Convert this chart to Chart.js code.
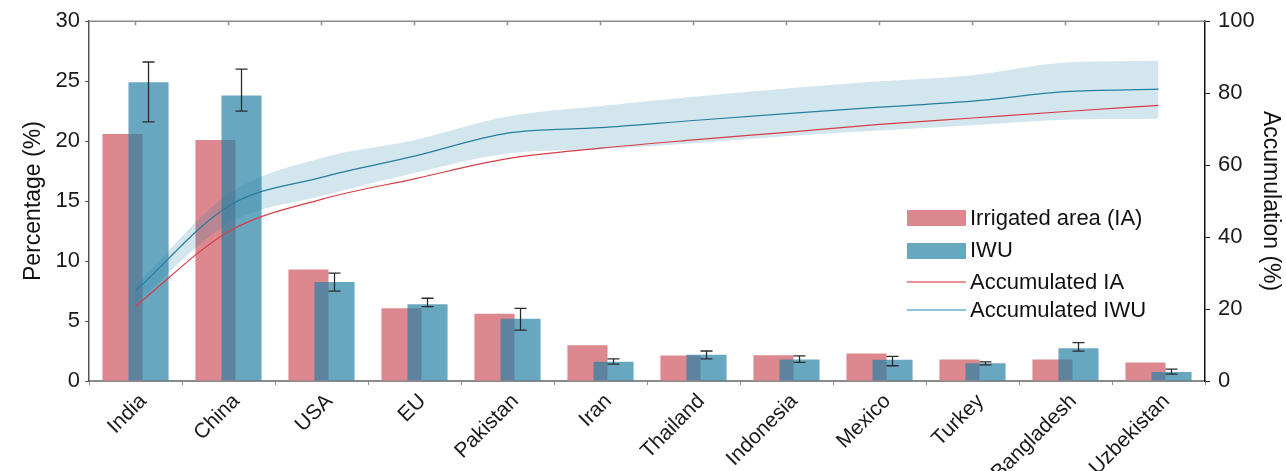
<!DOCTYPE html>
<html>
<head>
<meta charset="utf-8">
<script src="https://cdn.jsdelivr.net/npm/chart.js@4.4.1/dist/chart.umd.min.js"></script>
<style>
  html, body { margin: 0; padding: 0; background: #fff; }
  #wrap { width: 1286px; height: 471px; }
</style>
</head>
<body>
<div id="wrap"><canvas id="chart" width="1286" height="471"></canvas></div>
<script>
const countries = ['India', 'China', 'USA', 'EU', 'Pakistan', 'Iran', 'Thailand', 'Indonesia', 'Mexico', 'Turkey', 'Bangladesh', 'Uzbekistan']

// share of global total (%), left axis
const iaShare = [20.6, 20.1, 9.3, 6.07, 5.6, 2.98, 2.13, 2.15, 2.3, 1.8, 1.8, 1.55]
const iwuShare = [24.9, 23.8, 8.25, 6.4, 5.2, 1.6, 2.18, 1.8, 1.77, 1.49, 2.73, 0.75]
const iwuLow = [21.6, 22.5, 7.5, 6.2, 4.25, 1.4, 1.85, 1.55, 1.27, 1.35, 2.49, 0.58]
const iwuHigh = [26.6, 26.0, 9.0, 6.9, 6.05, 1.85, 2.5, 2.1, 2.05, 1.6, 3.2, 0.99]

// accumulation (%), right axis
const iaAccum = [20.8, 41.5, 50.5, 56.2, 61.8, 64.7, 67.0, 69.1, 71.3, 73.1, 74.9, 76.6]
const iwuAccum = [25.0, 48.6, 56.6, 62.5, 68.9, 70.4, 72.4, 74.3, 76.1, 77.8, 80.4, 81.1]
const iwuAccumHigh = [26.6, 52.0, 62.0, 67.0, 73.5, 76.4, 79.0, 81.3, 83.3, 85.0, 88.5, 89.0]
const iwuAccumLow = [21.6, 43.8, 51.4, 57.8, 63.2, 64.4, 66.1, 68.0, 69.6, 71.1, 72.6, 72.9]

const leftTicks = [0, 5, 10, 15, 20, 25, 30]
const rightTicks = [0, 20, 40, 60, 80, 100]

const iaColor = 'rgb(221, 136, 142)'
const iwuColor = 'rgba(40, 130, 165, 0.7)'
const iaLine = 'rgb(212, 62, 70)'
const iwuLine = 'rgb(38, 125, 160)'
const bandColor = 'rgba(40, 130, 165, 0.2)'
const fontFamily = '"Liberation Sans", Arial, sans-serif'

Chart.defaults.font.family = fontFamily
Chart.defaults.color = '#1a1a1a'

// IA bar sits left of IWU but has to be painted underneath it
const barOrder = {
  id: 'barOrder',
  beforeDatasetsDraw(chart) {
    chart.getDatasetMeta(0).controller.draw()
  },
  beforeDatasetDraw(chart, args) {
    if (args.index === 0) return false
  }
}

const errorBars = {
  id: 'errorBars',
  afterDatasetsDraw(chart) {
    const ctx = chart.ctx
    const y = chart.scales.y
    const meta = chart.getDatasetMeta(1)
    ctx.save()
    ctx.strokeStyle = '#2b2b2b'
    ctx.lineWidth = 1.3
    meta.data.forEach((bar, i) => {
      const top = y.getPixelForValue(iwuHigh[i])
      const bot = y.getPixelForValue(iwuLow[i])
      ctx.beginPath()
      ctx.moveTo(bar.x, top); ctx.lineTo(bar.x, bot)
      ctx.moveTo(bar.x - 6, top); ctx.lineTo(bar.x + 6, top)
      ctx.moveTo(bar.x - 6, bot); ctx.lineTo(bar.x + 6, bot)
      ctx.stroke()
    })
    ctx.restore()
  }
}

const frame = {
  id: 'frame',
  afterDraw(chart) {
    const ctx = chart.ctx
    const a = chart.chartArea
    const x = chart.scales.x
    ctx.save()
    ctx.strokeStyle = '#8a8a8a'
    ctx.lineWidth = 1.5
    ctx.beginPath()
    ctx.moveTo(a.left, a.top); ctx.lineTo(a.right, a.top)
    countries.forEach((c, i) => {
      const px = x.getPixelForTick(i)
      ctx.moveTo(px, a.top); ctx.lineTo(px, a.top + 4)
    })
    ctx.stroke()

    // legend inside the plot
    const lx = 907, tx = 970
    ctx.font = '22px ' + fontFamily
    ctx.textBaseline = 'middle'
    ctx.fillStyle = iaColor
    ctx.fillRect(lx, 210, 59, 16)
    ctx.fillStyle = iwuColor
    ctx.fillRect(lx, 243, 59, 16)
    ctx.lineWidth = 1.3
    ctx.strokeStyle = 'rgb(225, 110, 118)'
    ctx.beginPath(); ctx.moveTo(lx, 282); ctx.lineTo(lx + 59, 282); ctx.stroke()
    ctx.strokeStyle = 'rgb(100, 175, 205)'
    ctx.beginPath(); ctx.moveTo(lx, 310); ctx.lineTo(lx + 59, 310); ctx.stroke()
    ctx.fillStyle = '#111'
    ctx.fillText('Irrigated area (IA)', tx, 219)
    ctx.fillText('IWU', tx, 251)
    ctx.fillText('Accumulated IA', tx, 283)
    ctx.fillText('Accumulated IWU', tx, 311)
    ctx.restore()
  }
}

const smooth = { cubicInterpolationMode: 'monotone', pointRadius: 0, yAxisID: 'y2', type: 'line' }

new Chart(document.getElementById('chart'), {
  type: 'bar',
  data: {
    labels: countries,
    datasets: [
      {
        label: 'Irrigated area (IA)',
        data: iaShare,
        backgroundColor: iaColor,
        categoryPercentage: 0.56,
        barPercentage: 1.54,
        order: 0,
        yAxisID: 'y'
      },
      {
        label: 'IWU',
        data: iwuShare,
        backgroundColor: iwuColor,
        categoryPercentage: 0.56,
        barPercentage: 1.54,
        order: 1,
        yAxisID: 'y'
      },
      {
        ...smooth,
        label: 'IWU upper',
        data: iwuAccumHigh,
        borderWidth: 0,
        backgroundColor: bandColor,
        fill: '+1',
        order: -1
      },
      {
        ...smooth,
        label: 'IWU lower',
        data: iwuAccumLow,
        borderWidth: 0,
        fill: false,
        order: -1.5
      },
      {
        ...smooth,
        label: 'Accumulated IA',
        data: iaAccum,
        borderColor: iaLine,
        borderWidth: 1.2,
        fill: false,
        order: -2
      },
      {
        ...smooth,
        label: 'Accumulated IWU',
        data: iwuAccum,
        borderColor: iwuLine,
        borderWidth: 1.2,
        fill: false,
        order: -3
      }
    ]
  },
  options: {
    responsive: false,
    animation: false,
    layout: { padding: { top: 7, left: 0, right: 0, bottom: 0 } },
    plugins: {
      legend: { display: false },
      tooltip: { enabled: false }
    },
    scales: {
      x: {
        offset: true,
        grid: { display: true, drawOnChartArea: false, color: '#8a8a8a', tickLength: 4 },
        border: { color: '#8a8a8a', width: 2 },
        ticks: { font: { size: 21 }, color: '#1a1a1a', maxRotation: 45, minRotation: 45, autoSkip: false, padding: 4, labelOffset: 8 },
        afterFit(scale) { scale.height = 90 }
      },
      y: {
        position: 'left',
        min: 0,
        max: 30,
        afterBuildTicks(scale) { scale.ticks = leftTicks.map(v => ({ value: v })) },
        grid: { drawOnChartArea: false, color: '#555', tickLength: 4 },
        border: { color: '#555', width: 1.5 },
        ticks: { font: { size: 22 }, color: '#1a1a1a', padding: 5 },
        title: { display: true, text: 'Percentage (%)', font: { size: 23 }, color: '#111', padding: { top: 20, bottom: 0 } },
        afterFit(scale) { scale.width = 89 }
      },
      y2: {
        position: 'right',
        min: 0,
        max: 100,
        afterBuildTicks(scale) { scale.ticks = rightTicks.map(v => ({ value: v })) },
        grid: { drawOnChartArea: false, color: '#111', tickLength: 5 },
        border: { color: '#111', width: 1.5 },
        ticks: { font: { size: 22 }, color: '#1a1a1a', padding: 8 },
        title: { display: true, text: 'Accumulation (%)', font: { size: 23 }, color: '#111', padding: { top: 2, bottom: 0 } },
        afterFit(scale) { scale.width = 81 }
      }
    }
  },
  plugins: [barOrder, errorBars, frame]
})
</script>
</body>
</html>
